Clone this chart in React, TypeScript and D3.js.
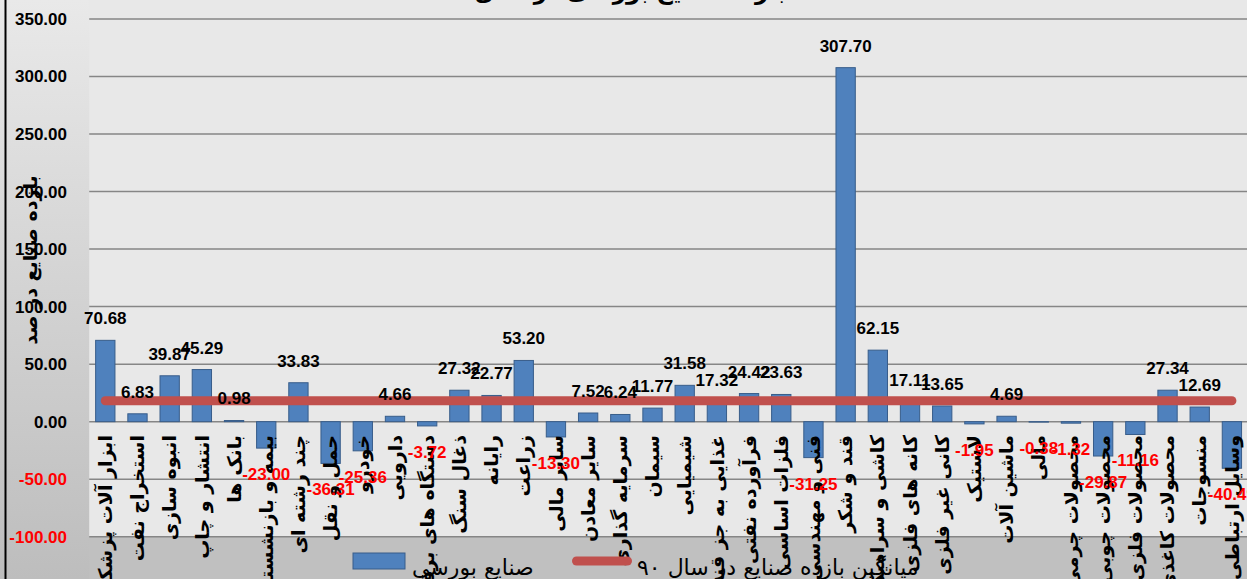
import React from "react";
import * as d3 from "d3";

const categories = [
  "ابزار آلات پزشکی",
  "استخراج نفت",
  "انبوه سازی",
  "انتشار و چاپ",
  "بانک ها",
  "بیمه و بازنشسته",
  "چند رشته ای",
  "حمل و نقل",
  "خودرو",
  "دارویی",
  "دستگاه های برقی",
  "ذغال سنگ",
  "رایانه",
  "زراعت",
  "سایر مالی",
  "سایر معادن",
  "سرمایه گذاری",
  "سیمان",
  "شیمیایی",
  "غذایی به جز قند",
  "فرآورده نفتی",
  "فلزات اساسی",
  "فنی و مهندسی",
  "قند و شکر",
  "کاشی و سرامیک",
  "کانه های فلزی",
  "کانی غیر فلزی",
  "لاستیک",
  "ماشین آلات",
  "مالی",
  "محصولات چرمی",
  "محصولات چوبی",
  "محصولات فلزی",
  "محصولات کاغذی",
  "منسوجات",
  "وسایل ارتباطی",
];

const values = [
  70.68, 6.83, 39.87, 45.29, 0.98, -23.0, 33.83, -36.31, -25.36, 4.66, -3.72,
  27.32, 22.77, 53.2, -13.3, 7.52, 6.24, 11.77, 31.58, 17.32, 24.42, 23.63,
  -31.25, 307.7, 62.15, 17.11, 13.65, -1.95, 4.69, -0.38, -1.32, -29.87,
  -11.16, 27.34, 12.69, -40.49,
];

const meanReturn = 18.2;
const yTicks = [350, 300, 250, 200, 150, 100, 50, 0, -50, -100];

const titleText = "بازده صنایع بورسی در سال ۹۰";
const yTitle = "بازده صنایع در صد";
const legendBars = "صنایع بورسی";
const legendLine = "میانگین بازده صنایع در سال ۹۰";

const W = 1247;
const H = 579;
const plotLeft = 89.2;
const plotRight = 1248;
const yTop = 19;
const yBottom = 536.7;

export default function App() {
  const x = d3
    .scaleBand<string>()
    .domain(categories)
    .range([plotLeft, plotRight])
    .paddingInner(0.4)
    .paddingOuter(0.2);
  const y = d3.scaleLinear().domain([-100, 350]).range([yBottom, yTop]);
  const cx = (c: string) => (x(c) as number) + x.bandwidth() / 2;
  const numFont = "'Liberation Sans', Arial, sans-serif";
  const arFont = "'DejaVu Sans', sans-serif";

  const first = categories[0];
  const last = categories[categories.length - 1];

  return (
    <svg
      width={W}
      height={H}
      style={{ position: "absolute", left: 0, top: 0, display: "block" }}
    >
      <defs>
        <linearGradient id="bg" x1="0" y1="0" x2="0" y2="1">
          <stop offset="0" stopColor="#e9e9e9" />
          <stop offset="1" stopColor="#bdbdbd" />
        </linearGradient>
      </defs>
      <rect x={0} y={0} width={W} height={H} fill="url(#bg)" />
      <rect x={plotLeft} y={0} width={W - plotLeft} height={yBottom} fill="#e8e8e8" />
      <rect x={plotLeft} y={yBottom} width={W - plotLeft} height={H - yBottom} fill="#c0c0c0" />
      <line x1={5.5} x2={5.5} y1={0} y2={H} stroke="#000" strokeWidth={2} />

      {/* title (cut off at top) */}
      <text
        x={612}
        y={-1}
        textAnchor="middle"
        fontFamily={arFont}
        fontWeight="bold"
        fontSize={23}
        letterSpacing={1}
        fill="#000"
      >
        {titleText}
      </text>

      {/* gridlines */}
      {yTicks.map((t) => (
        <line
          key={t}
          x1={plotLeft}
          x2={W}
          y1={y(t)}
          y2={y(t)}
          stroke="#868686"
          strokeWidth={1.5}
        />
      ))}

      {/* y tick labels */}
      {yTicks.map((t) => (
        <text
          key={"l" + t}
          x={67}
          y={y(t)}
          dy="0.35em"
          textAnchor="end"
          fontFamily={numFont}
          fontWeight="bold"
          fontSize={17}
          fill={t < 0 ? "#ff0000" : "#000"}
        >
          {t.toFixed(2)}
        </text>
      ))}

      {/* y title */}
      <text
        transform={`translate(30,${260}) rotate(-90)`}
        textAnchor="middle"
        dy="0.35em"
        fontFamily={arFont}
        fontWeight="bold"
        fontSize={19}
        letterSpacing={1}
        fill="#000"
      >
        {yTitle}
      </text>

      {/* bars */}
      {categories.map((c, i) => {
        const v = values[i];
        const y0 = y(0);
        const yv = y(v);
        return (
          <rect
            key={c}
            x={x(c)}
            y={Math.min(y0, yv)}
            width={x.bandwidth()}
            height={Math.abs(yv - y0)}
            fill="#4f81bd"
            stroke="#385d8a"
            strokeWidth={1}
          />
        );
      })}

      {/* category labels */}
      {categories.map((c) => (
        <text
          key={"c" + c}
          transform={`translate(${cx(c)},435) rotate(-90)`}
          textAnchor="end"
          dy="0.35em"
          fontFamily={arFont}
          fontWeight="bold"
          fontSize={19}
          letterSpacing={1.8}
          fill="#000"
        >
          {c}
        </text>
      ))}

      {/* mean line */}
      <line
        x1={cx(first)}
        x2={cx(last)}
        y1={y(meanReturn)}
        y2={y(meanReturn)}
        stroke="#c0504d"
        strokeWidth={9}
        strokeLinecap="round"
      />

      {/* data labels */}
      {categories.map((c, i) => {
        const v = values[i];
        const ly = v >= 0 ? y(v) - 22 : y(v) + 26;
        return (
          <text
            key={"v" + c}
            x={cx(c)}
            y={ly}
            dy="0.35em"
            textAnchor="middle"
            fontFamily={numFont}
            fontWeight="bold"
            fontSize={17}
            fill={v < 0 ? "#ff0000" : "#000"}
          >
            {v.toFixed(2)}
          </text>
        );
      })}

      {/* legend */}
      <rect x={353} y={553} width={52} height={16} fill="#4f81bd" stroke="#385d8a" strokeWidth={1} />
      <text x={412} y={575} fontFamily={arFont} fontSize={22} fill="#000">
        {legendBars}
      </text>
      <line
        x1={576.5}
        x2={627.5}
        y1={561}
        y2={561}
        stroke="#c0504d"
        strokeWidth={9}
        strokeLinecap="round"
      />
      <text x={637} y={575} fontFamily={arFont} fontSize={22} fill="#000">
        {legendLine}
      </text>
    </svg>
  );
}
